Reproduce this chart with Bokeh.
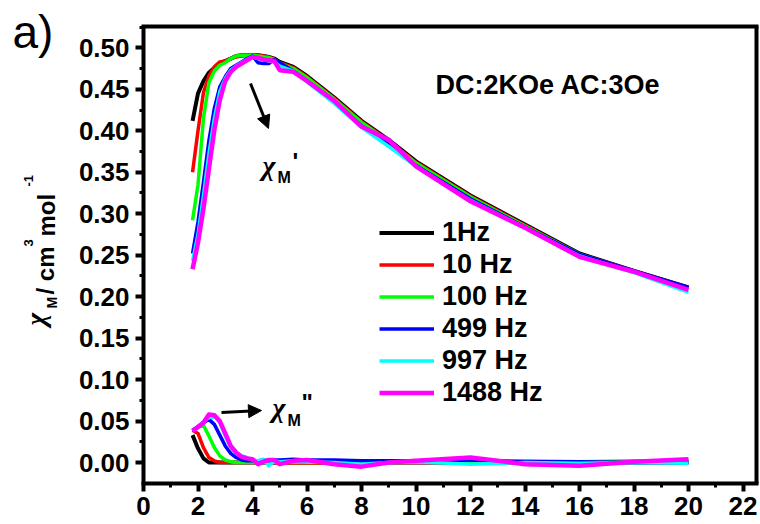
from math import pi
from bokeh.plotting import figure
from bokeh.models import (Range1d, SingleIntervalTicker, NumeralTickFormatter, Label,
                          Arrow, NormalHead, Legend, LegendItem, LinearAxis)
from bokeh.embed import file_html
from bokeh.resources import INLINE

# ---------------- data ----------------
T = [1.8, 2.0, 2.2, 2.4, 2.6, 2.8, 3.0, 3.2, 3.4, 3.6, 3.8, 4.0, 4.2, 4.4, 4.6, 4.8,
     5.0, 5.5, 6.0, 7.0, 8.0, 9.0, 10.0, 12.0, 14.0, 16.0, 18.0, 20.0]

freq_labels = ["1Hz", "10 Hz", "100 Hz", "499 Hz", "997 Hz", "1488 Hz"]
colors = ["#000000", "#FF0000", "#00FF00", "#0000FF", "#00FFFF", "#FF00FF"]
widths = [4, 3.5, 3.5, 3.5, 3.5, 4.5]

chi_re_1 = [0.412, 0.445, 0.460, 0.470, 0.476, 0.482, 0.484, 0.487, 0.490, 0.491, 0.491, 0.491, 0.491, 0.490,
            0.489, 0.487, 0.483, 0.477, 0.466, 0.440, 0.412, 0.389, 0.363, 0.322, 0.287, 0.252, 0.231, 0.211]
chi_re_10 = [0.350, 0.400, 0.446, 0.466, 0.477, 0.483, 0.484, 0.487, 0.489, 0.490, 0.491, 0.491, 0.491, 0.490,
             0.489, 0.486, 0.482, 0.476, 0.465, 0.439, 0.411, 0.388, 0.362, 0.321, 0.286, 0.251, 0.231, 0.210]
chi_re_100 = [0.292, 0.335, 0.415, 0.458, 0.472, 0.479, 0.482, 0.487, 0.490, 0.491, 0.491, 0.491, 0.490, 0.489,
              0.488, 0.486, 0.481, 0.475, 0.464, 0.438, 0.410, 0.387, 0.361, 0.320, 0.285, 0.251, 0.230, 0.210]
chi_re_499 = [0.252, 0.290, 0.338, 0.388, 0.427, 0.453, 0.465, 0.475, 0.479, 0.483, 0.487, 0.490, 0.482, 0.481,
              0.481, 0.486, 0.482, 0.472, 0.460, 0.435, 0.406, 0.383, 0.358, 0.318, 0.284, 0.251, 0.231, 0.211]
chi_re_997 = [0.243, 0.275, 0.322, 0.372, 0.415, 0.447, 0.463, 0.473, 0.478, 0.482, 0.486, 0.489, 0.487, 0.486,
              0.484, 0.483, 0.478, 0.472, 0.459, 0.433, 0.404, 0.381, 0.357, 0.316, 0.283, 0.249, 0.229, 0.205]
chi_re_1488 = [0.233, 0.265, 0.306, 0.354, 0.401, 0.437, 0.460, 0.471, 0.477, 0.481, 0.485, 0.489, 0.488, 0.486,
               0.485, 0.484, 0.473, 0.471, 0.460, 0.436, 0.405, 0.389, 0.357, 0.315, 0.283, 0.248, 0.230, 0.208]

chi_im_1 = [0.033, 0.017, 0.005, 0.000, 0.000, 0.000, 0.000, 0.000, 0.000, 0.000, 0.000, 0.000, 0.000, 0.000,
            0.000, 0.000, 0.000, 0.000, 0.000, 0.000, 0.000, 0.000, 0.000, 0.000, 0.000, 0.000, 0.000, 0.000]
chi_im_10 = [0.039, 0.035, 0.018, 0.006, 0.002, 0.000, 0.000, 0.000, 0.000, 0.000, 0.000, 0.000, 0.000, 0.000,
             -0.001, -0.001, -0.001, -0.001, -0.001, -0.001, 0.000, 0.000, 0.000, 0.000, 0.000, 0.001, 0.000, 0.001]
chi_im_100 = [0.039, 0.043, 0.045, 0.032, 0.018, 0.008, 0.003, 0.001, 0.000, 0.000, 0.000, 0.000, 0.000, 0.000,
              0.000, 0.000, 0.000, 0.000, 0.000, 0.000, 0.000, 0.000, 0.001, 0.001, 0.002, 0.001, 0.002, 0.002]
chi_im_499 = [0.039, 0.043, 0.048, 0.052, 0.046, 0.033, 0.020, 0.011, 0.006, 0.003, 0.002, 0.002, 0.002, 0.003,
              0.002, 0.003, 0.003, 0.004, 0.003, 0.003, 0.002, 0.002, 0.002, 0.003, 0.001, 0.001, 0.000, 0.000]
chi_im_997 = [0.038, 0.043, 0.049, 0.054, 0.056, 0.048, 0.032, 0.018, 0.011, 0.008, 0.006, 0.003, 0.002, 0.004,
              -0.004, 0.002, 0.001, 0.002, 0.001, 0.000, -0.002, 0.000, 0.001, -0.002, 0.000, -0.001, 0.000, -0.001]
chi_im_1488 = [0.038, 0.043, 0.048, 0.058, 0.057, 0.050, 0.035, 0.020, 0.012, 0.007, 0.005, 0.004, -0.002, 0.001,
               0.003, 0.003, -0.002, 0.002, 0.003, -0.002, -0.005, 0.000, 0.002, 0.006, -0.002, -0.004, 0.001, 0.004]

chi_re = [chi_re_1, chi_re_10, chi_re_100, chi_re_499, chi_re_997, chi_re_1488]
chi_im = [chi_im_1, chi_im_10, chi_im_100, chi_im_499, chi_im_997, chi_im_1488]

x_ticks_interval = 2
y_ticks_interval = 0.05

# ---------------- page-pixel <-> data helpers (layout only) ----------------
W, H = 760, 524
def dx(px):
    return (px - 143) / 27.25

def dy(py):
    return (462 - py) / 829.4

X0, X1 = 0.0, dx(755.5)       # plot box in data units
Y0, Y1 = dy(482.5), dy(26)

p = figure(width=W, height=H, output_backend="svg", toolbar_location=None,
           x_range=Range1d(dx(0), dx(W)), y_range=Range1d(dy(H), dy(0)),
           x_axis_location=None, y_axis_location=None,
           min_border=0, min_border_left=0, min_border_right=0,
           min_border_top=0, min_border_bottom=0)
p.background_fill_color = "white"
p.border_fill_color = "white"
p.outline_line_color = None
p.xgrid.visible = False
p.ygrid.visible = False

def style_axis(ax, labels=True):
    ax.axis_line_width = 4
    ax.axis_line_color = "black"
    ax.major_tick_line_width = 4
    ax.minor_tick_line_width = 3
    ax.major_tick_in = 0
    ax.minor_tick_in = 0
    if labels:
        ax.major_tick_out = 8
        ax.minor_tick_out = 4
        ax.major_label_text_font = "Liberation Sans"
        ax.major_label_text_font_style = "bold"
        ax.major_label_text_color = "black"
    else:
        ax.major_tick_out = 0
        ax.minor_tick_out = 0
        ax.major_tick_line_color = None
        ax.minor_tick_line_color = None
        ax.major_label_text_font_size = "0px"
        ax.major_label_text_alpha = 0

xaxis = LinearAxis(fixed_location=Y0, bounds=(dx(141), dx(757.5)),
                   ticker=SingleIntervalTicker(interval=x_ticks_interval, num_minor_ticks=2))
style_axis(xaxis)
xaxis.major_label_text_font_size = "26px"
xaxis.major_label_standoff = 6
p.add_layout(xaxis, "below")

yaxis = LinearAxis(fixed_location=X0, bounds=(Y0, Y1),
                   ticker=SingleIntervalTicker(interval=y_ticks_interval, num_minor_ticks=2),
                   formatter=NumeralTickFormatter(format="0.00"))
style_axis(yaxis)
yaxis.major_label_text_font_size = "26px"
yaxis.major_label_standoff = 6
p.add_layout(yaxis, "left")

topaxis = LinearAxis(fixed_location=Y1, bounds=(dx(141), dx(757.5)))
style_axis(topaxis, labels=False)
p.add_layout(topaxis, "above")

rightaxis = LinearAxis(fixed_location=X1, bounds=(Y0, Y1))
style_axis(rightaxis, labels=False)
p.add_layout(rightaxis, "right")

items = []
for lab_, col, lw, yr, yi in zip(freq_labels, colors, widths, chi_re, chi_im):
    r = p.line(T, yr, line_color=col, line_width=lw, line_join="round")
    p.line(T, yi, line_color=col, line_width=lw, line_join="round")
    items.append(LegendItem(label=lab_, renderers=[r]))

legend = Legend(items=items, location=(379, 116), padding=0, margin=0, spacing=1,
                glyph_width=55, glyph_height=29, label_height=29, label_standoff=8,
                label_text_font="Liberation Sans", label_text_font_style="bold",
                label_text_font_size="27px", label_text_color="black",
                border_line_alpha=0, background_fill_alpha=0)
p.add_layout(legend)

def lab(px, py, text, size, style="bold", font="Liberation Sans", angle=0.0):
    p.add_layout(Label(x=dx(px), y=dy(py), text=text, text_font=font, text_font_style=style,
                       text_font_size=size, text_color="black", angle=angle,
                       text_align="left", text_baseline="middle"))

lab(12, 31, "a)", "46px", style="normal")
lab(435, 84, "DC:2KOe AC:3Oe", "27px")

# chi_M'
lab(262, 164.5, "χ", "28px", style="bold italic", font="Liberation Serif")
lab(277, 176.5, "M", "16px")
lab(292, 161, "'", "24px")
# chi_M''
lab(272, 406.5, "χ", "28px", style="bold italic", font="Liberation Serif")
lab(287, 419.5, "M", "16px")
lab(301, 402, "\"", "24px")

p.add_layout(Arrow(end=NormalHead(size=13, fill_color="black", line_color="black", line_width=1),
                   x_start=dx(250), y_start=dy(83), x_end=dx(268), y_end=dy(128),
                   line_width=3, line_color="black"))
p.add_layout(Arrow(end=NormalHead(size=13, fill_color="black", line_color="black", line_width=1),
                   x_start=dx(221), y_start=dy(412), x_end=dx(261), y_end=dy(410),
                   line_width=3, line_color="black"))

# y-axis label, rotated
A = pi / 2
lab(35, 325, "χ", "27px", style="bold italic", font="Liberation Serif", angle=A)
lab(51, 308, "M", "14px", angle=A)
lab(44.7, 294, "/ cm", "24px", angle=A)
lab(27.5, 246, "3", "13px", angle=A)
lab(45.7, 236, "mol", "24px", angle=A)
lab(27.5, 186, "-1", "13px", angle=A)

open("out.html", "w").write(file_html(p, INLINE))
